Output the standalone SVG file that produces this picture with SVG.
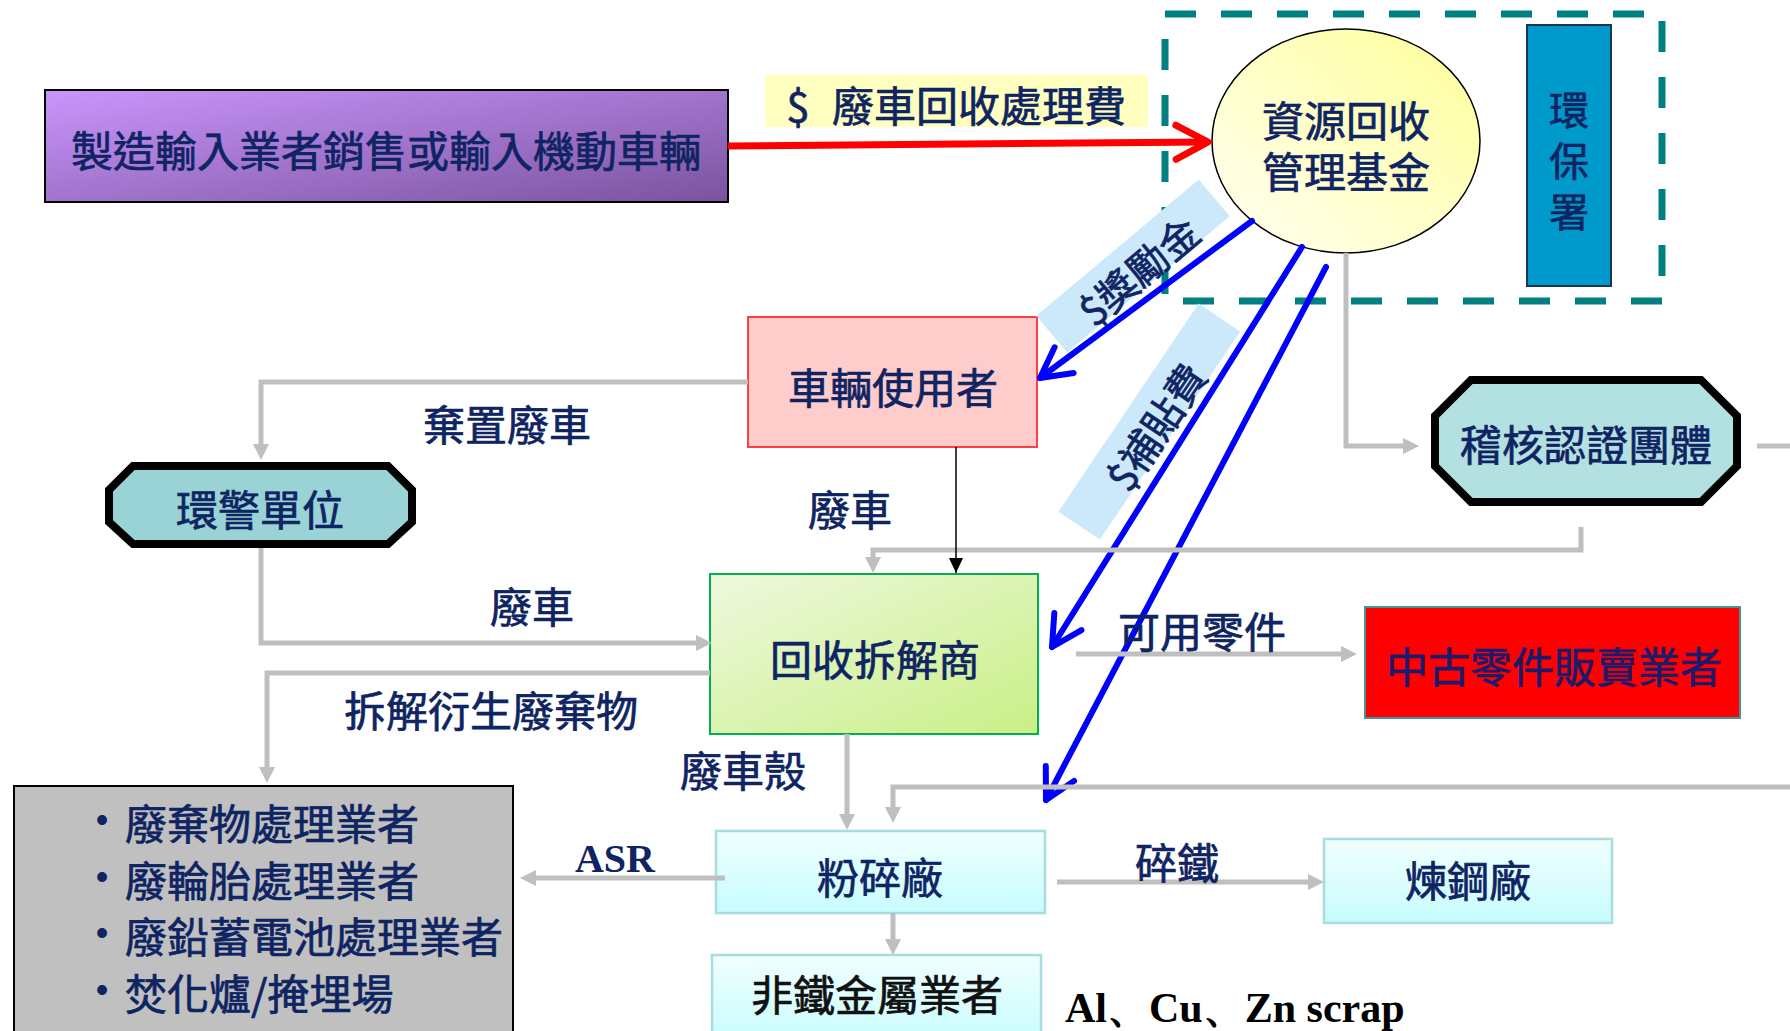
<svg xmlns="http://www.w3.org/2000/svg" width="1790" height="1031" viewBox="0 0 1790 1031">
<defs>
  <linearGradient id="gPurple" x1="0" y1="0" x2="1" y2="1">
    <stop offset="0" stop-color="#ca95fc"/>
    <stop offset="1" stop-color="#7a539e"/>
  </linearGradient>
  <linearGradient id="gYellow" x1="0" y1="1" x2="1" y2="0">
    <stop offset="0" stop-color="#fffff4"/>
    <stop offset="1" stop-color="#ffff99"/>
  </linearGradient>
  <linearGradient id="gGreen" x1="0" y1="0" x2="1" y2="1">
    <stop offset="0" stop-color="#eef8de"/>
    <stop offset="1" stop-color="#c9ef86"/>
  </linearGradient>
  <linearGradient id="gCyan" x1="0" y1="0" x2="0" y2="1">
    <stop offset="0" stop-color="#f2ffff"/>
    <stop offset="1" stop-color="#c6fcfe"/>
  </linearGradient>
  <marker id="mGray" viewBox="0 -8 16 16" refX="6" refY="0" markerWidth="16" markerHeight="16" markerUnits="userSpaceOnUse" orient="auto">
    <path d="M0,-8 L16,0 L0,8 z" fill="#bfbfbf"/>
  </marker>
  <marker id="mBlack" viewBox="0 -7 15 14" refX="15" refY="0" markerWidth="15" markerHeight="14" markerUnits="userSpaceOnUse" orient="auto">
    <path d="M0,-7 L15,0 L0,7 z" fill="#000"/>
  </marker>
  <marker id="mBlue" viewBox="-40 -24 46 48" refX="0" refY="0" markerWidth="46" markerHeight="48" markerUnits="userSpaceOnUse" orient="auto">
    <path d="M-30,-16 L0,0 L-30,16" fill="none" stroke="#0000ff" stroke-width="6" stroke-linecap="round" stroke-linejoin="round"/>
  </marker>
  <marker id="mRed" viewBox="-40 -24 46 48" refX="0" refY="0" markerWidth="46" markerHeight="48" markerUnits="userSpaceOnUse" orient="auto">
    <path d="M-32,-17 L0,0 L-32,17" fill="none" stroke="#ff0000" stroke-width="7" stroke-linecap="round" stroke-linejoin="round"/>
  </marker>
</defs>
<style>
  .t { font-family: "Noto Sans CJK TC", "Noto Sans CJK SC", sans-serif; font-size: 42px; fill: #0f2462; stroke: #0f2462; stroke-width: 0.7px; text-anchor: middle; dominant-baseline: central; }
  .lt { font-size: 40px; }
  .g { stroke: #bfbfbf; stroke-width: 5; fill: none; marker-end: url(#mGray); }
  .gn { stroke: #bfbfbf; stroke-width: 5; fill: none; }
  .b { stroke: #0000ff; stroke-width: 6; fill: none; stroke-linecap: round; marker-end: url(#mBlue); }
  .en { font-family: "Liberation Serif", serif; font-weight: bold; font-size: 42px; fill: #000; }
  .band { fill: #cce9fb; }
</style>

<!-- dashed group box (環保署 scope) -->
<rect x="1165" y="14" width="497" height="287" fill="none" stroke="#008080" stroke-width="7" stroke-dasharray="31 25"/>

<g id="manufacturer">
  <rect x="45" y="90" width="683" height="112" fill="url(#gPurple)" stroke="#000" stroke-width="2"/>
  <text class="t" x="386" y="148">製造輸入業者銷售或輸入機動車輛</text>
</g>

<g id="fund">
  <ellipse cx="1346" cy="141" rx="134" ry="112" fill="url(#gYellow)" stroke="#000" stroke-width="1.5"/>
  <text class="t"><tspan x="1346" y="118">資源回收</tspan><tspan x="1346" y="169">管理基金</tspan></text>
</g>

<g id="epa">
  <rect x="1527" y="25" width="84" height="261" fill="#0099cc" stroke="#1e3550" stroke-width="2"/>
  <text class="t" style="font-size:40px"><tspan x="1569" y="108">環</tspan><tspan x="1569" y="159">保</tspan><tspan x="1569" y="210">署</tspan></text>
</g>

<g id="vehicle-user">
  <rect x="748" y="317" width="289" height="130" fill="#ffcccc" stroke="#ff4040" stroke-width="2"/>
  <text class="t" x="893" y="385">車輛使用者</text>
</g>

<g id="police">
  <polygon points="133,466 388,466 412,490 412,522 388,544 133,544 109,522 109,490" fill="#99d3d6" stroke="#000" stroke-width="8"/>
  <text class="t" x="260" y="507">環警單位</text>
</g>

<g id="audit">
  <polygon points="1471,380 1701,380 1737,416 1737,466 1701,502 1471,502 1435,466 1435,416" fill="#b3e0e0" stroke="#000" stroke-width="8"/>
  <text class="t" x="1586" y="442">稽核認證團體</text>
</g>

<g id="dismantler">
  <rect x="710" y="574" width="328" height="160" fill="url(#gGreen)" stroke="#00b050" stroke-width="2"/>
  <text class="t" x="875" y="657">回收拆解商</text>
</g>

<g id="parts-dealer">
  <rect x="1365" y="607" width="375" height="111" fill="#ff0000" stroke="#3a9a9a" stroke-width="2"/>
  <text class="t" x="1554" y="664" style="fill:#1c1a6a;stroke:#1c1a6a">中古零件販賣業者</text>
</g>

<g id="shredder">
  <rect x="716" y="831" width="329" height="82" fill="url(#gCyan)" stroke="#a9dcdc" stroke-width="2.5"/>
  <text class="t" x="880" y="875">粉碎廠</text>
</g>

<g id="steel-mill">
  <rect x="1324" y="839" width="288" height="84" fill="url(#gCyan)" stroke="#a9dcdc" stroke-width="2.5"/>
  <text class="t" x="1468" y="878">煉鋼廠</text>
</g>

<g id="nonferrous">
  <rect x="712" y="955" width="329" height="90" fill="url(#gCyan)" stroke="#a9dcdc" stroke-width="2.5"/>
  <text class="t" x="877" y="992" style="fill:#111;stroke:#111">非鐵金屬業者</text>
</g>

<g id="waste-handlers">
  <rect x="14" y="786" width="499" height="260" fill="#c0c0c0" stroke="#000" stroke-width="2"/>
  <g class="t" style="text-anchor:start">
    <text x="125" y="821">廢棄物處理業者</text>
    <text x="125" y="878">廢輪胎處理業者</text>
    <text x="125" y="934">廢鉛蓄電池處理業者</text>
    <text x="125" y="991">焚化爐/掩埋場</text>
  </g>
  <g style="font-family:'Liberation Sans',sans-serif;font-size:36px;fill:#0f2462;text-anchor:middle;dominant-baseline:central">
    <text x="102" y="819">•</text>
    <text x="102" y="876">•</text>
    <text x="102" y="932">•</text>
    <text x="102" y="989">•</text>
  </g>
</g>

<!-- label backgrounds -->
<rect class="band" x="-106" y="-24" width="212" height="48" transform="translate(1133,266) rotate(-40)"/>
<rect class="band" x="-125" y="-25" width="251" height="50" transform="translate(1149,422) rotate(-56)"/>
<rect x="765" y="75" width="383" height="52" fill="#ffffc0"/>

<g id="connectors">
  <line x1="728" y1="146" x2="1208" y2="142" stroke="#ff0000" stroke-width="7" marker-end="url(#mRed)"/>
  <line class="b" x1="1252" y1="221" x2="1040" y2="378"/>
  <line class="b" x1="1302" y1="247" x2="1052" y2="647"/>
  <line class="b" x1="1326" y1="267" x2="1046" y2="800"/>

  <polyline class="g" points="748,382 261,382 261,450"/>
  <polyline class="g" points="261,548 261,643 702,643"/>
  <polyline class="g" points="710,673 267,673 267,773"/>
  <polyline class="g" points="1346,253 1346,446 1409,446"/>
  <line class="gn" x1="1757" y1="446" x2="1790" y2="446"/>
  <polyline class="g" points="1581,527 1581,550 873,550 873,563"/>
  <line x1="956" y1="447" x2="956" y2="573" stroke="#000" stroke-width="1.5" marker-end="url(#mBlack)"/>
  <line class="g" x1="847" y1="734" x2="847" y2="820"/>
  <polyline class="g" points="1790,787 893,787 893,813"/>
  <line class="g" x1="725" y1="878" x2="530" y2="878"/>
  <line class="g" x1="893" y1="913" x2="893" y2="945"/>
  <line class="g" x1="1057" y1="882" x2="1314" y2="882"/>
  <line class="g" x1="1076" y1="654" x2="1347" y2="654"/>
</g>

<g id="edge-labels">
  <text class="t" x="798" y="103">$</text>
  <text class="t" x="979" y="103">廢車回收處理費</text>
  <text class="t lt" transform="translate(1138,270) rotate(-40)">$獎勵金</text>
  <text class="t lt" transform="translate(1155,426) rotate(-56)">$補貼費</text>
  <text class="t" x="507" y="422">棄置廢車</text>
  <text class="t" x="850" y="507">廢車</text>
  <text class="t" x="532" y="604">廢車</text>
  <text class="t" x="491" y="708">拆解衍生廢棄物</text>
  <text class="t" x="743" y="768">廢車殼</text>
  <text class="t" x="1202" y="629">可用零件</text>
  <text class="t" x="1177" y="860">碎鐵</text>
  <text class="en" x="615" y="872" text-anchor="middle" style="font-size:40px;fill:#0f2462">ASR</text>
  <text class="en" x="1065" y="1022">Al、Cu、Zn scrap</text>
</g>
</svg>
